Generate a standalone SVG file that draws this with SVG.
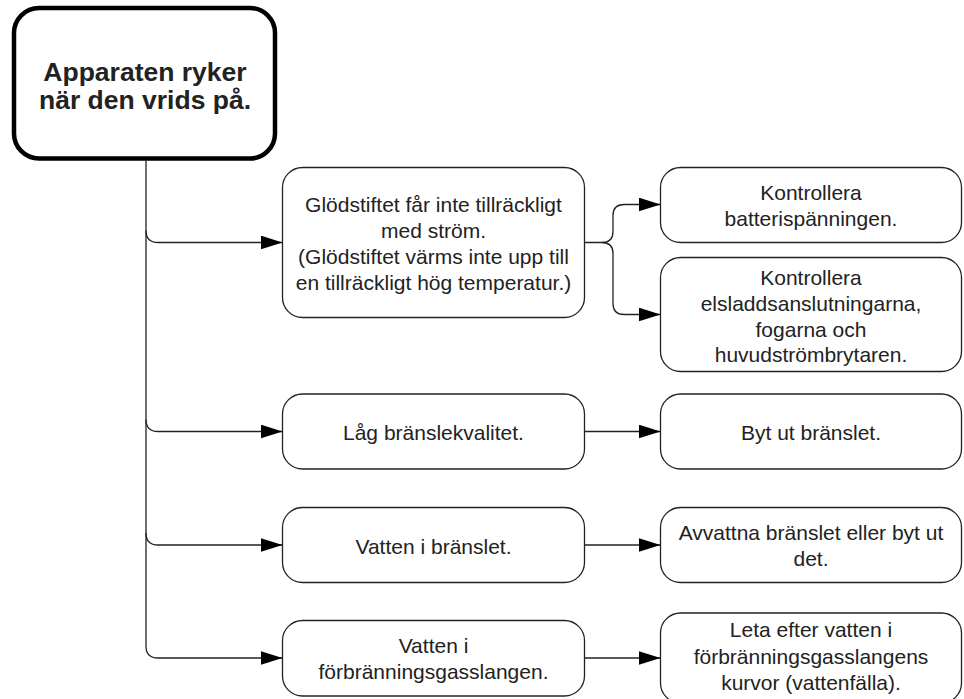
<svg xmlns="http://www.w3.org/2000/svg" width="964" height="699" viewBox="0 0 964 699">
<style>
.box{fill:#fff;stroke:#222;stroke-width:1.3}
.root{fill:#fff;stroke:#000;stroke-width:4.5}
.t{font-family:"Liberation Sans",Arial,sans-serif;font-size:21px;fill:#222;text-anchor:middle}
.tb{font-family:"Liberation Sans",Arial,sans-serif;font-size:26.5px;font-weight:bold;fill:#222;text-anchor:middle}
.c{fill:none;stroke:#222;stroke-width:1.3}
</style>
<defs>
<marker id="arr" markerUnits="userSpaceOnUse" markerWidth="22" markerHeight="14" refX="22" refY="7" orient="auto">
<path d="M0,0 L22,7 L0,14 z" fill="#000"/>
</marker>
</defs>
<rect width="964" height="699" fill="#fff"/>
<g id="connectors">
<path class="c" d="M146,160.5 V646 Q146,658 158,658 H282.5" marker-end="url(#arr)"/>
<path class="c" d="M146,230.5 Q146,242.5 158,242.5 H282.5" marker-end="url(#arr)"/>
<path class="c" d="M146,419.5 Q146,431.5 158,431.5 H282.5" marker-end="url(#arr)"/>
<path class="c" d="M146,533 Q146,545 158,545 H282.5" marker-end="url(#arr)"/>
<path class="c" d="M584.5,242.5 H602 Q613,242.5 613,231.5 V215.5 Q613,204.5 624,204.5 H660.5" marker-end="url(#arr)"/>
<path class="c" d="M602,242.5 Q613,242.5 613,253.5 V303.5 Q613,314.5 624,314.5 H660.5" marker-end="url(#arr)"/>
<path class="c" d="M584.5,431.5 H660.5" marker-end="url(#arr)"/>
<path class="c" d="M584.5,545 H660.5" marker-end="url(#arr)"/>
<path class="c" d="M584.5,658 H660.5" marker-end="url(#arr)"/>
</g>
<g id="root">
<rect class="root" x="14" y="8" width="261" height="150.5" rx="25"/>
<text class="tb" x="145" y="81">Apparaten ryker</text>
<text class="tb" x="145" y="109">när den vrids på.</text>
</g>
<g id="n1">
<rect class="box" x="282.5" y="167.5" width="302" height="150" rx="20"/>
<text class="t" x="433.5" y="212">Glödstiftet får inte tillräckligt</text>
<text class="t" x="433.5" y="238">med ström.</text>
<text class="t" x="433.5" y="264">(Glödstiftet värms inte upp till</text>
<text class="t" x="433.5" y="290">en tillräckligt hög temperatur.)</text>
</g>
<g id="n1a">
<rect class="box" x="660.5" y="167.5" width="301" height="75" rx="20"/>
<text class="t" x="811" y="199.5">Kontrollera</text>
<text class="t" x="811" y="225.5">batterispänningen.</text>
</g>
<g id="n1b">
<rect class="box" x="660.5" y="257.5" width="301" height="114" rx="20"/>
<text class="t" x="811" y="284.5">Kontrollera</text>
<text class="t" x="811" y="310.5">elsladdsanslutningarna,</text>
<text class="t" x="811" y="336.5">fogarna och</text>
<text class="t" x="811" y="362">huvudströmbrytaren.</text>
</g>
<g id="n2">
<rect class="box" x="282.5" y="394" width="302" height="75" rx="20"/>
<text class="t" x="433.5" y="440">Låg bränslekvalitet.</text>
</g>
<g id="n2a">
<rect class="box" x="660.5" y="394" width="301" height="75" rx="20"/>
<text class="t" x="811" y="440">Byt ut bränslet.</text>
</g>
<g id="n3">
<rect class="box" x="282.5" y="507.5" width="302" height="75" rx="20"/>
<text class="t" x="433.5" y="553.5">Vatten i bränslet.</text>
</g>
<g id="n3a">
<rect class="box" x="660.5" y="507.5" width="301" height="75" rx="20"/>
<text class="t" x="811" y="540">Avvattna bränslet eller byt ut</text>
<text class="t" x="811" y="566">det.</text>
</g>
<g id="n4">
<rect class="box" x="282.5" y="620.5" width="302" height="75.5" rx="20"/>
<text class="t" x="433.5" y="652.5">Vatten i</text>
<text class="t" x="433.5" y="679">förbränningsgasslangen.</text>
</g>
<g id="n4a">
<rect class="box" x="660.5" y="613" width="301" height="90" rx="20"/>
<text class="t" x="811" y="637">Leta efter vatten i</text>
<text class="t" x="811" y="663.5">förbränningsgasslangens</text>
<text class="t" x="811" y="690">kurvor (vattenfälla).</text>
</g>
</svg>
